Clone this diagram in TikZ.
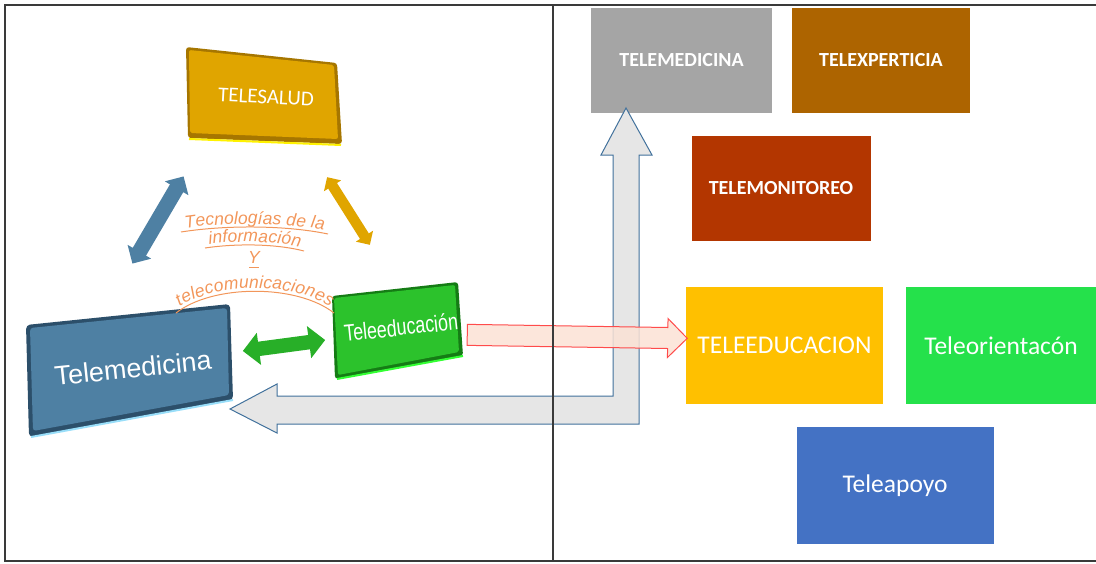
\documentclass[tikz,border=0pt]{standalone}
\usepackage{fontspec}
\setmainfont{Carlito}
\newfontfamily\arialf{Liberation Sans}
\usetikzlibrary{shapes.arrows,decorations.text,calc}
\definecolor{framec}{HTML}{3A3A3A}
\definecolor{cgray}{HTML}{A5A5A5}
\definecolor{cbrown}{HTML}{AD6400}
\definecolor{crust}{HTML}{B33600}
\definecolor{cgold}{HTML}{FFC000}
\definecolor{cgreen}{HTML}{25E14B}
\definecolor{cblue}{HTML}{4472C4}
\definecolor{salface}{HTML}{E0A500}
\definecolor{saledge}{HTML}{A67600}
\definecolor{medface}{HTML}{4E80A3}
\definecolor{mededge}{HTML}{2C4F6A}
\definecolor{eduface}{HTML}{2CC22C}
\definecolor{eduedge}{HTML}{157C15}
\definecolor{otext}{HTML}{F2965A}
\definecolor{lgray}{HTML}{E6E6E6}
\definecolor{lgrayedge}{HTML}{41719C}
\definecolor{rfill}{HTML}{FBE2D5}
\definecolor{redge}{HTML}{FF4B4B}
\newcommand\orfont{\arialf\itshape\fontsize{17.5}{17.5}\selectfont}
\tikzset{
  rbox/.style={rectangle, inner sep=0pt, text=white, font=\fontsize{20}{24}\selectfont\bfseries},
  bigbox/.style={rectangle, inner sep=0pt, text=white, font=\fontsize{25.5}{30}\selectfont},
  facetext/.style={text=white, inner sep=0pt},
  dbl/.style={double arrow, inner xsep=0pt, double arrow head indent=0pt},
  uline/.style={draw=otext, line width=1pt},
  curvtext/.style={decorate, decoration={text along path, text align=center, raise=3pt, text color=otext}}
}
\begin{document}
\begin{tikzpicture}[x=1pt,y=-1pt]
\useasboundingbox (0,0) rectangle (1096,563);

% ---------- left: 3D boxes ----------
% TELESALUD
\fill[saledge, rounded corners=3pt] (186,47) -- (337,63) -- (342,144) -- (188,138) -- cycle;
\draw[yellow, line width=2pt] (189,139) -- (341,145);
\fill[salface, rounded corners=2pt] (189,50) -- (334,65) -- (338,139) -- (190,133) -- cycle;
\node[facetext, rotate=-3, font=\fontsize{21}{24}\selectfont] (tsalud) at (266,97) {TELESALUD};

% Telemedicina
\fill[mededge, rounded corners=4pt] (26,325) -- (230,304) -- (233,400) -- (29,437) -- cycle;
\draw[cyan!40!white, line width=2pt] (31,437) -- (233,400);
\fill[medface, rounded corners=3pt] (30,328) -- (227,308) -- (229,395) -- (33,431) -- cycle;
\node[facetext, rotate=6, font=\arialf\fontsize{27}{30}\selectfont] (tmed) at (133,368) {Telemedicina};

% Teleeducacion
\fill[eduedge, rounded corners=3pt] (332,296) -- (458,282) -- (463,356) -- (335,379) -- cycle;
\draw[green!80!white, line width=2pt] (337,379) -- (463,356);
\fill[eduface, rounded corners=2pt] (334,298) -- (455,285) -- (459,352) -- (338,375) -- cycle;
\node[facetext, rotate=6, xscale=0.76, font=\arialf\fontsize{23.5}{26}\selectfont] (tedu) at (401,327) {Teleeducación};

% double arrows (shaft width = 2 x inner ysep)
\node[dbl, fill=medface, rotate=59.6, minimum height=101pt, inner ysep=7.5pt, double arrow head extend=6pt] (ablue) at (158,220) {};
\node[dbl, fill=salface, rotate=-57.7, minimum height=80pt, inner ysep=5pt, double arrow head extend=5pt] (agold) at (348.5,211) {};
\node[dbl, fill=eduface!90!black, rotate=7.6, minimum height=83pt, inner ysep=7pt, double arrow head extend=9pt] (agreen) at (284,345.5) {};

% curved orange text
\path[curvtext, decoration={text={|\orfont|Tecnologías de la}}] (181,232) .. controls (225,225) and (285,225) .. (328,234);
\draw[uline] (181,232) .. controls (225,225) and (285,225) .. (328,234);
\path[curvtext, decoration={text={|\orfont|información}}] (205,248) .. controls (235,243.5) and (275,243.5) .. (304,251);
\draw[uline] (205,248) .. controls (235,243.5) and (275,243.5) .. (304,251);
\node[text=otext, font=\orfont, inner sep=0pt, anchor=base] (ty) at (254,263) {Y};
\draw[uline] (249,267) -- (259,267);
\path[curvtext, decoration={text={|\orfont|telecomunicaciones}}] (176,313) .. controls (213,284) and (297,284) .. (334,313);
\draw[uline] (176,313) .. controls (213,284) and (297,284) .. (334,313);

% ---------- right: boxes ----------
\node[rbox, fill=cgray, minimum width=181pt, minimum height=105pt] (r1) at (681.5,60.5) {TELEMEDICINA};
\node[rbox, fill=cbrown, minimum width=178pt, minimum height=105pt] (r2) at (881,60.5) {TELEXPERTICIA};
\node[rbox, fill=crust, minimum width=179pt, minimum height=105pt] (r3) at (781,188.5) {TELEMONITOREO};
\node[bigbox, fill=cgold, minimum width=197pt, minimum height=117pt] (r4) at (784.5,345.5) {TELEEDUCACION};
\node[bigbox, fill=cgreen, minimum width=190pt, minimum height=117pt] (r5) at (1001,345.5) {Teleorientacón};
\node[bigbox, fill=cblue, minimum width=197pt, minimum height=117pt] (r6) at (895,485.5) {Teleapoyo};

% ---------- big gray L arrow ----------
\coordinate (ltip) at (230,409);
\coordinate (utip) at (626,108);
\draw[fill=lgray, draw=lgrayedge, line width=1pt, line join=miter]
  (ltip) -- (277,384) -- (277,396) -- (613,396) -- (613,155) -- (601,155) -- (utip)
  -- (652,155) -- (639,155) -- (639,424) -- (277,424) -- (277,433) -- cycle;

% ---------- red arrow ----------
\node[single arrow, fill=rfill, draw=redge, line width=1pt, fill opacity=0.85, inner xsep=0pt, inner ysep=10pt,
      minimum height=220pt, single arrow head extend=9pt, single arrow head indent=0pt,
      rotate=-0.9] (ared) at (572,336.5) {};

% ---------- frame ----------
\draw[framec, line width=1.3pt] (1096,5) -- (5,5) -- (5,561) -- (1096,561);
\draw[framec, line width=1.3pt] (553,5) -- (553,561);
\end{tikzpicture}
\end{document}
